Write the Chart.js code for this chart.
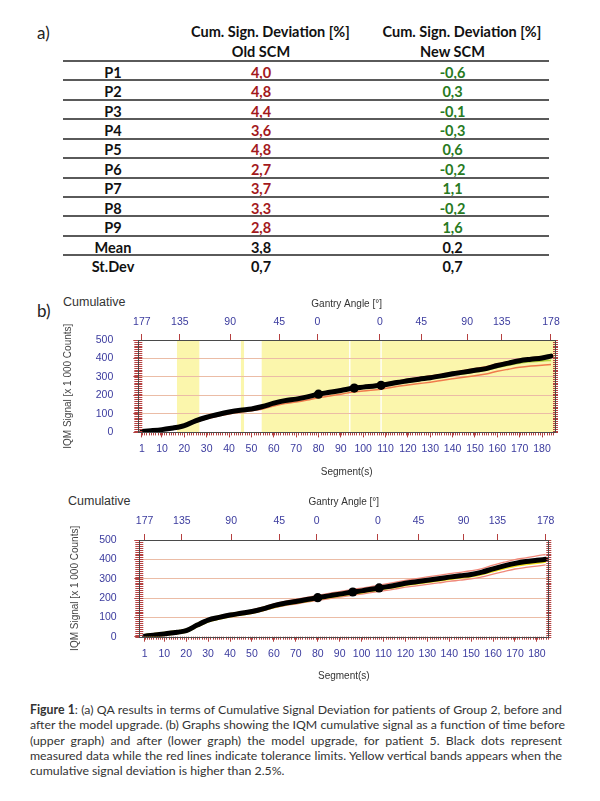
<!DOCTYPE html>
<html>
<head>
<meta charset="utf-8">
<script src="https://cdn.jsdelivr.net/npm/chart.js@4.4.0/dist/chart.umd.min.js"></script>
<style>
  body { margin: 0; background: #fff; }
  #page { position: relative; width: 600px; height: 801px; overflow: hidden; font-family: Lato, sans-serif; color: #111; }
  .abs { position: absolute; white-space: nowrap; }
  .cell { text-align: center; width: 140px; height: 20px; line-height: 20px; font-weight: bold; }
  .rule { position: absolute; left: 63px; width: 486px; height: 0; border-top: 2px solid #5a5a5a; }
  .ctitle { font-family: "Liberation Sans", Arial, sans-serif; font-size: 12.5px; color: #333; line-height: 16px; }
  .cap { position: absolute; left: 30px; width: 532px; white-space: nowrap; color: #333; line-height: 15.4px; }
  .just { text-align: justify; text-align-last: justify; }
  canvas { position: absolute; }
</style>
</head>
<body>
<div id="page">
  <div class="abs" style="left:37px; top:22px; font-size:17px; line-height:22px; color:#222;">a)</div>
  <div id="table"></div>

  <div class="abs" style="left:37px; top:300px; font-size:17px; line-height:22px; color:#222;">b)</div>
  <div class="abs ctitle" style="left:63px; top:294px;">Cumulative</div>
  <canvas id="chartOld" width="535" height="192" style="left:55px; top:292px; width:535px; height:192px;"></canvas>

  <div class="abs ctitle" style="left:68px; top:493px;">Cumulative</div>
  <canvas id="chartNew" width="535" height="200" style="left:55px; top:490px; width:535px; height:200px;"></canvas>

  <div id="caption">
    <div class="cap just" style="top:701.6px;"><b>Figure 1</b>: (a) QA results in terms of Cumulative Signal Deviation for patients of Group 2, before and</div>
    <div class="cap just" style="top:717px;">after the model upgrade. (b) Graphs showing the IQM cumulative signal as a function of time before</div>
    <div class="cap just" style="top:732.5px;">(upper graph) and after (lower graph) the model upgrade, for patient 5. Black dots represent</div>
    <div class="cap just" style="top:748px;">measured data while the red lines indicate tolerance limits. Yellow vertical bands appears when the</div>
    <div class="cap" style="top:763.3px;">cumulative signal deviation is higher than 2.5%.</div>
  </div>
</div>

<script>
// Table a)
const rowLabels = ['P1', 'P2', 'P3', 'P4', 'P5', 'P6', 'P7', 'P8', 'P9', 'Mean', 'St.Dev'];
const oldScmDev = [4.0, 4.8, 4.4, 3.6, 4.8, 2.7, 3.7, 3.3, 2.8, 3.8, 0.7];
const newScmDev = [-0.6, 0.3, -0.1, -0.3, 0.6, -0.2, 1.1, -0.2, 1.6, 0.2, 0.7];

// Graphs b): segment axis and gantry angle axis
const segTicks = [1, 10, 20, 30, 40, 50, 60, 70, 80, 90, 100, 110, 120, 130, 140, 150, 160, 170, 180];
const gantryTickSegs = [1, 18, 40.5, 62.5, 79.5, 107.5, 126, 146.5, 162, 184];
const gantryTickLabels = ['177', '135', '90', '45', '0', '0', '45', '90', '135', '178'];
const markerSegs = [80, 96, 108];

// Cumulative IQM signal [x 1000 counts], sampled along the segments
const segments = [1, 5, 10, 15, 17, 20, 25, 30, 35, 40, 45, 50, 55, 60, 65, 70, 75, 80, 85, 90, 96, 100, 108,
  115, 120, 125, 130, 135, 140, 145, 150, 155, 160, 165, 170, 175, 180, 184];

// upper graph (old SCM)
const oldMeasured = [5, 9, 15, 24, 28, 36, 62, 82, 97, 110, 120, 127, 140, 158, 172, 180, 192, 207, 217, 227, 240, 245, 255,
  270, 279, 288, 296, 306, 317, 326, 336, 345, 362, 375, 388, 396, 403, 413];
const oldExpected = [4, 8, 15, 23, 27, 34, 59, 79, 94, 107, 117, 125, 136, 153, 167, 176, 187, 201, 211, 221, 233, 239, 249,
  264, 272, 281, 290, 299, 309, 318, 327, 336, 352, 364, 375, 382, 387, 390];
const oldTolLow = [4, 7, 13, 21, 25, 32, 55, 74, 88, 100, 110, 117, 127, 143, 156, 164, 175, 188, 197, 207, 218, 224, 234,
  248, 256, 264, 272, 281, 290, 299, 307, 316, 331, 342, 352, 359, 364, 367];
const oldTolHigh = [5, 9, 16, 25, 29, 37, 63, 84, 100, 113, 123, 131, 144, 162, 177, 186, 198, 213, 223, 233, 246, 252, 262,
  278, 287, 296, 306, 315, 326, 335, 345, 355, 371, 383, 396, 404, 410, 413];
// yellow bands (segment ranges where deviation > 2.5%)
const oldBands = [[16.7, 26.7], [45.3, 46.7], [54.6, 93.7], [94.3, 107.7], [108.3, 186]];

// lower graph (new SCM)
const newMeasured = [3, 8, 14, 22, 25, 31, 60, 86, 100, 112, 121, 130, 144, 161, 173, 182, 192, 202, 211, 220, 231, 237, 252,
  265, 276, 284, 292, 300, 308, 315, 322, 334, 351, 366, 379, 389, 395, 400];
const newExpected = [3, 8, 14, 22, 25, 31, 59, 85, 99, 111, 120, 129, 143, 159, 171, 180, 190, 200, 209, 218, 228, 234, 249,
  262, 272, 280, 288, 296, 304, 311, 318, 329, 345, 359, 372, 381, 388, 394];
const newTolHigh = [4, 9, 16, 24, 27, 34, 64, 91, 106, 119, 128, 138, 153, 170, 183, 193, 203, 214, 224, 233, 245, 251, 267,
  281, 291, 300, 309, 317, 326, 333, 341, 352, 370, 385, 399, 408, 418, 425];
const newTolLow = [2, 7, 12, 20, 23, 29, 55, 80, 93, 104, 113, 121, 134, 149, 161, 169, 179, 188, 196, 205, 214, 220, 234,
  246, 256, 263, 271, 278, 286, 292, 299, 309, 324, 337, 350, 358, 365, 371];

// font size that makes a text a given width
function fitSize(text, font, target) {
  let c = document.createElement('canvas').getContext('2d');
  c.font = font.replace('SIZE', '100px');
  return 100 * target / c.measureText(text).width;
}

function fmt(v) {
  return v.toFixed(1).replace('.', ',');
}

// ---- table ----
let tableSize = fitSize('Cum. Sign. Deviation [%]', 'bold SIZE Lato', 159);
let table = document.getElementById('table');
let html = '';
let colX = [113, 261, 452.5];
html += `<div class="abs cell" style="left:${colX[1] - 70}px; top:22px; font-size:${tableSize}px">Cum. Sign. Deviation [%]</div>`;
html += `<div class="abs cell" style="left:${colX[1] - 70}px; top:42px; font-size:${tableSize}px">Old SCM</div>`;
html += `<div class="abs cell" style="left:${colX[2] - 70}px; top:22px; font-size:${tableSize}px">Cum. Sign. Deviation [%]</div>`;
html += `<div class="abs cell" style="left:${colX[2] - 70}px; top:42px; font-size:${tableSize}px">New SCM</div>`;
rowLabels.forEach((lab, i) => {
  let top = 61 + 19.43 * i;
  let patient = lab.startsWith('P');
  html += `<div class="rule" style="top:${top - 1}px"></div>`;
  html += `<div class="abs cell" style="left:${colX[0] - 70}px; top:${top + 1.7}px; font-size:${tableSize}px">${lab}</div>`;
  html += `<div class="abs cell" style="left:${colX[1] - 70}px; top:${top + 1.7}px; font-size:${tableSize}px; color:${patient ? '#a3191c' : '#111'}">${fmt(oldScmDev[i])}</div>`;
  html += `<div class="abs cell" style="left:${colX[2] - 70}px; top:${top + 1.7}px; font-size:${tableSize}px; color:${patient ? '#277a22' : '#111'}">${fmt(newScmDev[i])}</div>`;
});
table.innerHTML = html;

// ---- caption ----
let capSize = fitSize('cumulative signal deviation is higher than 2.5%.', 'SIZE Lato', 255);
document.querySelectorAll('.cap').forEach(el => { el.style.fontSize = capSize + 'px'; });

// ---- graphs ----
const framePlugin = {
  id: 'frame',
  beforeDraw(chart, args, opts) {
    let {ctx, chartArea: a, scales: {x}} = chart;
    ctx.save();
    ctx.fillStyle = '#fbf6ac';
    (opts.bands || []).forEach(([s, e]) => {
      let x0 = Math.max(a.left, x.getPixelForValue(s));
      let x1 = Math.min(a.right, x.getPixelForValue(e));
      ctx.fillRect(x0, a.top, x1 - x0, a.bottom - a.top);
    });
    ctx.restore();
  },
  afterDraw(chart) {
    let {ctx, chartArea: a, scales: {x, y}} = chart;
    ctx.save();
    ctx.strokeStyle = '#b54040';
    ctx.lineWidth = 1;
    ctx.beginPath();
    for (let v = 0; v <= 500; v += 10) {
      let py = Math.round(y.getPixelForValue(v)) + 0.5;
      ctx.moveTo(a.left - 4, py); ctx.lineTo(a.left + 4, py);
      ctx.moveTo(a.right - 2, py); ctx.lineTo(a.right + 3, py);
    }
    for (let s = 1; s <= 185; s++) {
      let px = Math.round(x.getPixelForValue(s)) + 0.5;
      ctx.moveTo(px, a.bottom); ctx.lineTo(px, a.bottom + 3);
    }
    ctx.stroke();
    ctx.strokeStyle = '#4a4a4a';
    ctx.strokeRect(Math.round(a.left) + 0.5, Math.round(a.top) + 0.5, Math.round(a.right - a.left), Math.round(a.bottom - a.top));
    ctx.restore();
  }
};

function series(vals, color, width, extra) {
  return Object.assign({
    data: segments.map((s, i) => ({x: s, y: vals[i]})),
    borderColor: color,
    borderWidth: width,
    pointRadius: 0,
    fill: false,
    cubicInterpolationMode: 'monotone'
  }, extra || {});
}

function measuredSeries(vals) {
  return series(vals, '#000', 5, {
    borderCapStyle: 'round',
    borderJoinStyle: 'round',
    pointRadius: c => markerSegs.includes(segments[c.dataIndex]) ? 4.6 : 0,
    pointBackgroundColor: '#000',
    pointBorderWidth: 0
  });
}

const tickFont = {family: 'Liberation Sans', size: 10.5};
const titleFont = {family: 'Liberation Sans', size: 10};
const tickBlue = '#3b3b9e';
const tickRed = '#b54040';

function buildChart(id, g, datasets, bands) {
  return new Chart(document.getElementById(id), {
    type: 'line',
    data: {datasets: datasets},
    options: {
      responsive: false,
      animation: false,
      layout: {padding: {left: 0, top: 0, right: g.rightPad, bottom: 0}},
      plugins: {legend: {display: false}, tooltip: {enabled: false}, frame: {bands: bands}},
      scales: {
        x: {
          type: 'linear', position: 'bottom', min: g.xMin, max: g.xMax,
          afterFit: s => { s.height = g.bottomH; },
          afterBuildTicks: s => { s.ticks = segTicks.map(v => ({value: v})); },
          ticks: {autoSkip: false, maxRotation: 0, padding: g.bottomPad, color: tickBlue, font: tickFont},
          grid: {drawOnChartArea: false, tickLength: 5, tickColor: tickRed},
          border: {display: false},
          title: {display: true, text: 'Segment(s)', color: '#333', font: titleFont, padding: {top: 0, bottom: g.segTitlePad}}
        },
        x2: {
          type: 'linear', position: 'top', min: g.xMin, max: g.xMax,
          afterFit: s => { s.height = g.topH; },
          afterBuildTicks: s => { s.ticks = gantryTickSegs.map(v => ({value: v})); },
          ticks: {autoSkip: false, maxRotation: 0, padding: g.topPad, color: tickBlue, font: tickFont,
            callback: (v, i) => gantryTickLabels[i]},
          grid: {drawOnChartArea: false, tickLength: 6, tickColor: tickRed},
          border: {display: false},
          title: {display: true, text: 'Gantry Angle [°]', color: '#333', font: titleFont, padding: {top: g.gantryTitlePad, bottom: 0}}
        },
        y: {
          min: 0, max: 500,
          afterFit: s => { s.width = g.leftW; },
          ticks: {stepSize: 100, padding: g.leftPad, color: tickBlue, font: tickFont},
          grid: {
            color: c => (c.tick && (c.tick.value === 0 || c.tick.value === 500)) ? 'rgba(0,0,0,0)' : '#ebbca6',
            tickColor: tickRed, tickLength: 5
          },
          border: {display: false},
          title: {display: true, text: 'IQM Signal [x 1 000 Counts]', color: '#444', font: titleFont, padding: {top: g.yTitlePad, bottom: 0}}
        }
      }
    },
    plugins: [framePlugin]
  });
}

buildChart('chartOld',
  {xMin: -0.6, xMax: 185.8, leftW: 83.3, topH: 48, bottomH: 51.6, rightPad: 35,
   leftPad: 20, topPad: 6, bottomPad: 5.6, segTitlePad: 6, gantryTitlePad: 6, yTitlePad: 7},
  [
    measuredSeries(oldMeasured),
    series(oldExpected, '#b3d23c', 1.6),
    series(oldTolHigh, '#f07b4c', 1.5),
    series(oldTolLow, '#f07b4c', 1.5)
  ],
  oldBands);

buildChart('chartNew',
  {xMin: -1.4, xMax: 185.2, leftW: 84.3, topH: 50, bottomH: 53.3, rightPad: 41.7,
   leftPad: 17.6, topPad: 6.3, bottomPad: 6.3, segTitlePad: 8, gantryTitlePad: 6.7, yTitlePad: 14},
  [
    measuredSeries(newMeasured),
    series(newExpected, '#f2e31c', 4.5),
    series(newTolHigh, '#f0887a', 1.3),
    series(newTolLow, '#f0887a', 1.3)
  ],
  []);
</script>
</body>
</html>
